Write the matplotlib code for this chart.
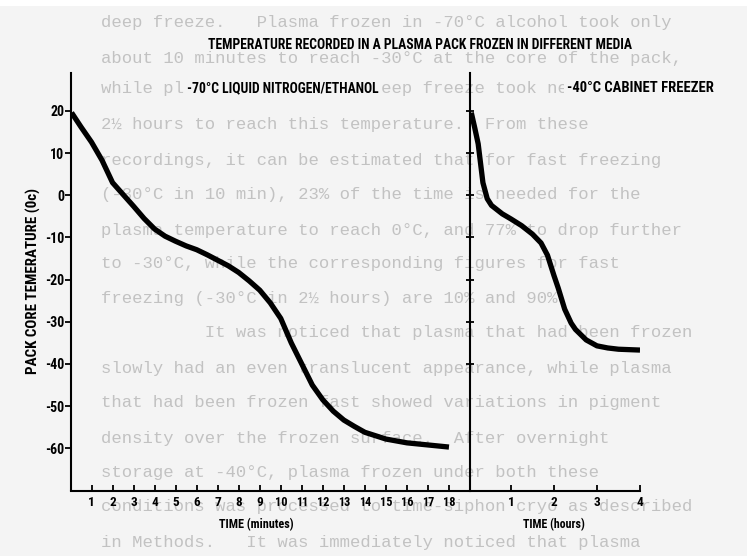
import matplotlib
matplotlib.use("Agg")
import matplotlib.pyplot as plt
from matplotlib import font_manager
from matplotlib.font_manager import FontProperties
from matplotlib.patches import Rectangle

# Pack core temperature, -70 C liquid nitrogen / ethanol bath (time in minutes)
minutes = [0.05, 0.5, 1.0, 1.5, 2.0, 2.5, 3.0, 3.5, 4.0, 4.5, 5.0, 5.5, 6.0,
           6.5, 7.0, 7.5, 8.0, 8.5, 9.0, 9.5, 10.0, 10.5, 11.0, 11.5, 12.0,
           12.5, 13.0, 13.5, 14.0, 15.0, 16.0, 17.0, 18.0]
temp_bath = [19.6, 16.2, 12.6, 8.3, 3.0, 0.2, -2.6, -5.5, -8.0, -9.7, -10.9,
             -12.0, -12.9, -14.1, -15.4, -16.7, -18.3, -20.3, -22.5, -25.5,
             -29.2, -35.0, -40.0, -45.0, -48.5, -51.2, -53.3, -54.8, -56.2,
             -57.8, -58.7, -59.2, -59.7]

# Pack core temperature, -40 C cabinet freezer (time in hours)
hours = [0.08, 0.16, 0.24, 0.35, 0.45, 0.55, 0.8, 1.0, 1.25, 1.5, 1.7, 1.85,
         2.0, 2.1, 2.25, 2.4, 2.5, 2.75, 3.0, 3.25, 3.5, 4.0]
temp_freezer = [19.6, 16.0, 12.2, 3.0, -0.8, -2.4, -4.4, -5.6, -7.2, -9.2,
                -11.3, -14.2, -19.0, -22.0, -27.0, -30.3, -31.8, -34.3,
                -35.7, -36.2, -36.5, -36.7]

temp_ticks = [20, 10, 0, -10, -20, -30, -40, -50, -60]
freezer_temp_ticks = [20, 10, 0, -10, -20, -30, -40]
minute_ticks = list(range(1, 19))
hour_ticks = [1, 2, 3, 4]

title = "TEMPERATURE RECORDED IN A PLASMA PACK FROZEN IN DIFFERENT MEDIA"
label_bath = "-70\u00b0C LIQUID NITROGEN/ETHANOL"
label_freezer = "-40\u00b0C CABINET FREEZER"
y_label = "PACK CORE TEMERATURE (0c)"
x_label_min = "TIME (minutes)"
x_label_hr = "TIME (hours)"

# Typed page text behind the figure
page_lines = [
    "deep freeze.   Plasma frozen in -70\u00b0C alcohol took only",
    "about 10 minutes to reach -30\u00b0C at the core of the pack,",
    "while plasma in the -40\u00b0C deep freeze took nearly",
    "2\u00bd hours to reach this temperature.  From these",
    "recordings, it can be estimated that for fast freezing",
    "(-30\u00b0C in 10 min), 23% of the time is needed for the",
    "plasma temperature to reach 0\u00b0C, and 77% to drop further",
    "to -30\u00b0C, while the corresponding figures for fast",
    "freezing (-30\u00b0C in 2\u00bd hours) are 10% and 90%.",
    "          It was noticed that plasma that had been frozen",
    "slowly had an even translucent appearance, while plasma",
    "that had been frozen fast showed variations in pigment",
    "density over the frozen surface.  After overnight",
    "storage at -40\u00b0C, plasma frozen under both these",
    "conditions was processed to time-siphon cryo as described",
    "in Methods.   It was immediately noticed that plasma",
]
page_line_y = [22, 58, 89, 125, 160, 195, 230, 264, 299, 333, 368, 403,
               438, 473, 507, 542]

CONDENSED_FAMILIES = ["Roboto Condensed", "Fira Sans Condensed",
                      "PT Sans Narrow", "Archivo Narrow",
                      "Liberation Sans Narrow", "IBM Plex Sans Condensed",
                      "Encode Sans Condensed", "Barlow Condensed"]


def pick_lettering_font():
    """Bold condensed sans for the chart lettering (static faces first)."""
    entries = font_manager.fontManager.ttflist
    for fam in CONDENSED_FAMILIES:
        found = []
        for f in entries:
            if f.name != fam or f.style != "normal":
                continue
            try:
                w = int(f.weight)
            except (TypeError, ValueError):
                w = 700 if "bold" in str(f.weight).lower() else 400
            static = "[" not in f.fname
            found.append((static, -abs(w - 700), f.fname))
        if found:
            found.sort(reverse=True)
            static, wdiff, fname = found[0]
            if static and wdiff >= -100:
                return FontProperties(fname=fname)
    return FontProperties(family=["Roboto", "Liberation Sans", "DejaVu Sans"],
                          weight="bold")


LETTER = pick_lettering_font()

W, H = 747, 556
fig = plt.figure(figsize=(W / 100, H / 100), dpi=100, facecolor="#f4f4f4")
renderer = fig.canvas.get_renderer()


def fx(px):
    return px / W


def fy(py):
    return 1 - py / H


def lettering(size):
    fp = LETTER.copy()
    fp.set_size(size)
    return fp


def fit_width(txt, target_px, max_size):
    """Scale a text's size so that it spans target_px pixels."""
    txt.set_fontproperties(lettering(10))
    w = txt.get_window_extent(renderer).width
    txt.set_fontproperties(lettering(min(max_size, 10 * target_px / w)))


fig.patches.append(Rectangle((0, fy(6)), 1, 6 / H, transform=fig.transFigure,
                             facecolor="white", edgecolor="none", zorder=-3))

for line, py in zip(page_lines, page_line_y):
    fig.text(fx(101), fy(py), line, family=["Liberation Mono", "DejaVu Sans Mono"],
             fontweight="normal", fontsize=12.4, color="#c2c2c2",
             va="center", ha="left", zorder=-2)

ax_bottom, ax_top = 490.5, 73
ax1 = fig.add_axes([fx(70.5), fy(ax_bottom), fx(470) - fx(70.5),
                    (ax_bottom - ax_top) / H])
ax2 = fig.add_axes([fx(470), fy(ax_bottom), fx(640) - fx(470),
                    (ax_bottom - ax_top) / H])

for ax in (ax1, ax2):
    ax.set_facecolor("none")
    ax.set_ylim(-70, 29)
    for s in ("top", "right"):
        ax.spines[s].set_visible(False)
    for s in ("left", "bottom"):
        ax.spines[s].set_linewidth(1.5)
        ax.spines[s].set_color("black")

line_kw = dict(color="black", lw=3.8, solid_capstyle="butt",
               solid_joinstyle="round")
ax1.plot(minutes, temp_bath, **line_kw)
ax2.plot(hours, temp_freezer, **line_kw)

ax1.set_xlim(0, 19.0)
ax1.set_xticks(minute_ticks)
ax1.set_xticklabels([str(v) for v in minute_ticks])
ax1.set_yticks(temp_ticks)
ax1.set_yticklabels([str(v) for v in temp_ticks])
ax1.tick_params(axis="y", direction="out", length=4, width=1.3, pad=0.6)
ax1.tick_params(axis="x", direction="in", length=4, width=1.3, pad=4)

ax2.set_xlim(0.05, 4.0)
ax2.set_xticks(hour_ticks)
ax2.set_xticklabels([str(v) for v in hour_ticks])
ax2.set_yticks(freezer_temp_ticks)
ax2.tick_params(axis="y", direction="inout", length=6, width=1.3,
                labelleft=False)
ax2.tick_params(axis="x", direction="in", length=4, width=1.3, pad=4)

for lbl in ax1.get_yticklabels():
    lbl.set_fontproperties(lettering(10))
for lbl in ax1.get_xticklabels() + ax2.get_xticklabels():
    lbl.set_fontproperties(lettering(9.5))
# the two-digit minute labels must sit within one tick spacing
for lbl in ax1.get_xticklabels():
    if len(lbl.get_text()) > 1:
        fit_width(lbl, 12.5, 9.5)

t_title = fig.text(fx(420), fy(45), title, ha="center", va="center")
fit_width(t_title, 423, 11)
box = dict(facecolor="#f4f4f4", edgecolor="none", pad=1.5)
t_bath = fig.text(fx(283), fy(88), label_bath, ha="center", va="center",
                  bbox=box, zorder=5)
fit_width(t_bath, 191, 11)
t_frz = fig.text(fx(640), fy(88), label_freezer, ha="center", va="center",
                 bbox=box, zorder=5)
fit_width(t_frz, 146, 11)
t_y = fig.text(fx(33), fy(281), y_label, rotation=90, ha="center", va="center")
t_y.set_fontproperties(lettering(10))
h = t_y.get_window_extent(renderer).height
t_y.set_fontproperties(lettering(min(11, 10 * 185 / h)))
t_xm = fig.text(fx(256), fy(525), x_label_min, ha="center", va="center")
fit_width(t_xm, 75, 11)
t_xh = fig.text(fx(554), fy(525), x_label_hr, ha="center", va="center")
fit_width(t_xh, 62, 11)

fig.savefig("out.png", dpi=100, facecolor=fig.get_facecolor())
